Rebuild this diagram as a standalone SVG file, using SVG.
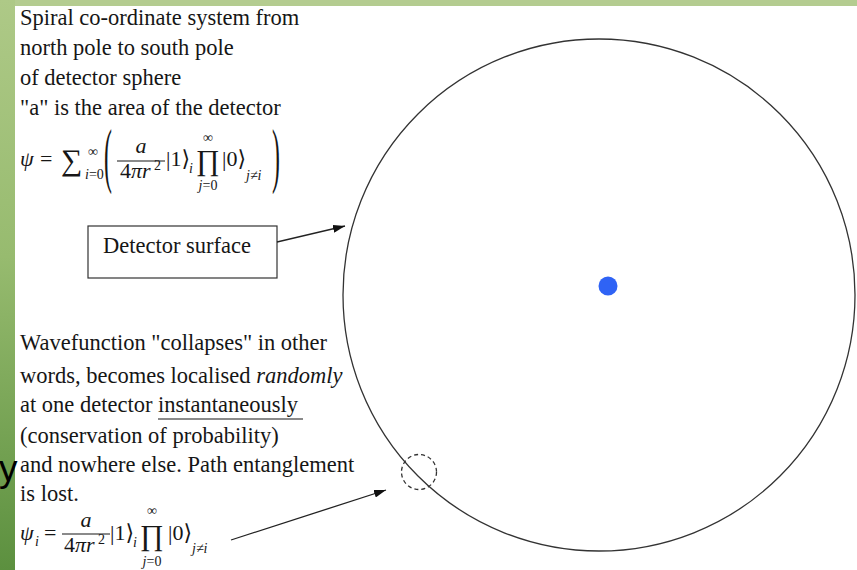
<svg xmlns="http://www.w3.org/2000/svg" width="857" height="570" viewBox="0 0 857 570">
<defs>
<linearGradient id="strip" x1="0" y1="0" x2="0" y2="1">
<stop offset="0" stop-color="#aec987"/>
<stop offset="0.45" stop-color="#97bb6f"/>
<stop offset="1" stop-color="#5c903f"/>
</linearGradient>
<marker id="ah" viewBox="0 0 12 8" refX="12" refY="4" markerWidth="12" markerHeight="8" markerUnits="userSpaceOnUse" orient="auto">
<path d="M0,0 L12,4 L0,8 z" fill="#111"/>
</marker>
</defs>
<style>
text{font-family:"Liberation Serif","DejaVu Serif",serif;fill:#161616;}
.t{font-size:22.5px;}
.m{font-size:22px;}
.it{font-style:italic;}
.s{font-size:14px;}
.big{font-size:72px;}
.op{font-size:29px;}
.conn{stroke:#222;stroke-width:1.3;fill:none;marker-end:url(#ah);}
</style>
<rect x="0" y="0" width="857" height="570" fill="#ffffff"/>
<rect x="0" y="0" width="857" height="6" fill="#b4cc90"/>
<rect x="0" y="0" width="15" height="570" fill="url(#strip)"/>
<text x="-1" y="481" style="font-family:'Liberation Sans','DejaVu Sans',sans-serif;font-size:37px;fill:#000">y</text>

<g id="intro-text">
<text class="t" x="20" y="25">Spiral co-ordinate system from</text>
<text class="t" x="20" y="55">north pole to south pole</text>
<text class="t" x="20" y="85">of detector sphere</text>
<text class="t" x="20" y="115">"a" is the area of the detector</text>
</g>

<g id="formula-sum">
<text class="m it" x="20" y="166">ψ</text>
<text class="m" x="40" y="166">=</text>
<text x="61" y="170" style="font-size:30px">∑</text>
<text class="s" x="88" y="156">∞</text>
<text class="s" x="85" y="179"><tspan class="it">i</tspan>=0</text>
<text class="big" transform="translate(104,179) scale(0.33,1)">(</text>
<text class="m it" x="141" y="153" text-anchor="middle">a</text>
<line x1="117" y1="161" x2="165" y2="161" stroke="#161616" stroke-width="1.1"/>
<text class="m" x="120" y="178">4<tspan class="it">πr</tspan></text>
<text class="s" x="154" y="170">2</text>
<text class="m" x="166" y="166">|1⟩</text>
<text class="s it" x="189" y="173">i</text>
<text class="op" x="208" y="170" text-anchor="middle">∏</text>
<text class="s" x="208" y="142" text-anchor="middle">∞</text>
<text class="s" x="208" y="190" text-anchor="middle"><tspan class="it">j</tspan>=0</text>
<text class="m" x="222" y="166">|0⟩</text>
<text class="s it" x="246" y="180">j≠i</text>
<text class="big" transform="translate(272,179) scale(0.33,1)">)</text>
</g>

<g id="detector-surface-label">
<rect x="88" y="226" width="189" height="52" fill="#fff" stroke="#333" stroke-width="1.2"/>
<text class="t" x="103" y="253">Detector surface</text>
</g>

<g id="collapse-text">
<text class="t" x="20" y="350">Wavefunction "collapses" in other</text>
<text class="t" x="20" y="383">words, becomes localised <tspan class="it">randomly</tspan></text>
<text class="t" x="20" y="412">at one detector instantaneously</text>
<line x1="158" y1="419" x2="303" y2="419" stroke="#161616" stroke-width="1.1"/>
<text class="t" x="20" y="443">(conservation of probability)</text>
<text class="t" x="20" y="472">and nowhere else. Path entanglement</text>
<text class="t" x="20" y="501">is lost.</text>
</g>

<g id="formula-collapsed">
<text class="m it" x="20" y="540">ψ</text>
<text class="s it" x="35" y="546">i</text>
<text class="m" x="44" y="540">=</text>
<text class="m it" x="86" y="527" text-anchor="middle">a</text>
<line x1="62" y1="534" x2="110" y2="534" stroke="#161616" stroke-width="1.1"/>
<text class="m" x="64" y="552">4<tspan class="it">πr</tspan></text>
<text class="s" x="98" y="544">2</text>
<text class="m" x="110" y="540">|1⟩</text>
<text class="s it" x="133" y="547">i</text>
<text class="op" x="152" y="545" text-anchor="middle">∏</text>
<text class="s" x="152" y="515" text-anchor="middle">∞</text>
<text class="s" x="152" y="566" text-anchor="middle"><tspan class="it">j</tspan>=0</text>
<text class="m" x="168" y="540">|0⟩</text>
<text class="s it" x="192" y="553">j≠i</text>
</g>

<g id="detector-sphere">
<circle cx="599" cy="295" r="256" fill="none" stroke="#333" stroke-width="1.3"/>
</g>
<g id="source">
<circle cx="608" cy="286" r="9.5" fill="#2f63f5"/>
</g>
<g id="detection-point">
<circle cx="419" cy="472" r="17.5" fill="none" stroke="#333" stroke-width="1.3" stroke-dasharray="4,3"/>
</g>

<g id="connectors">
<line class="conn" x1="277" y1="242" x2="345" y2="226"/>
<line class="conn" x1="231" y1="540" x2="386" y2="490"/>
</g>
</svg>
